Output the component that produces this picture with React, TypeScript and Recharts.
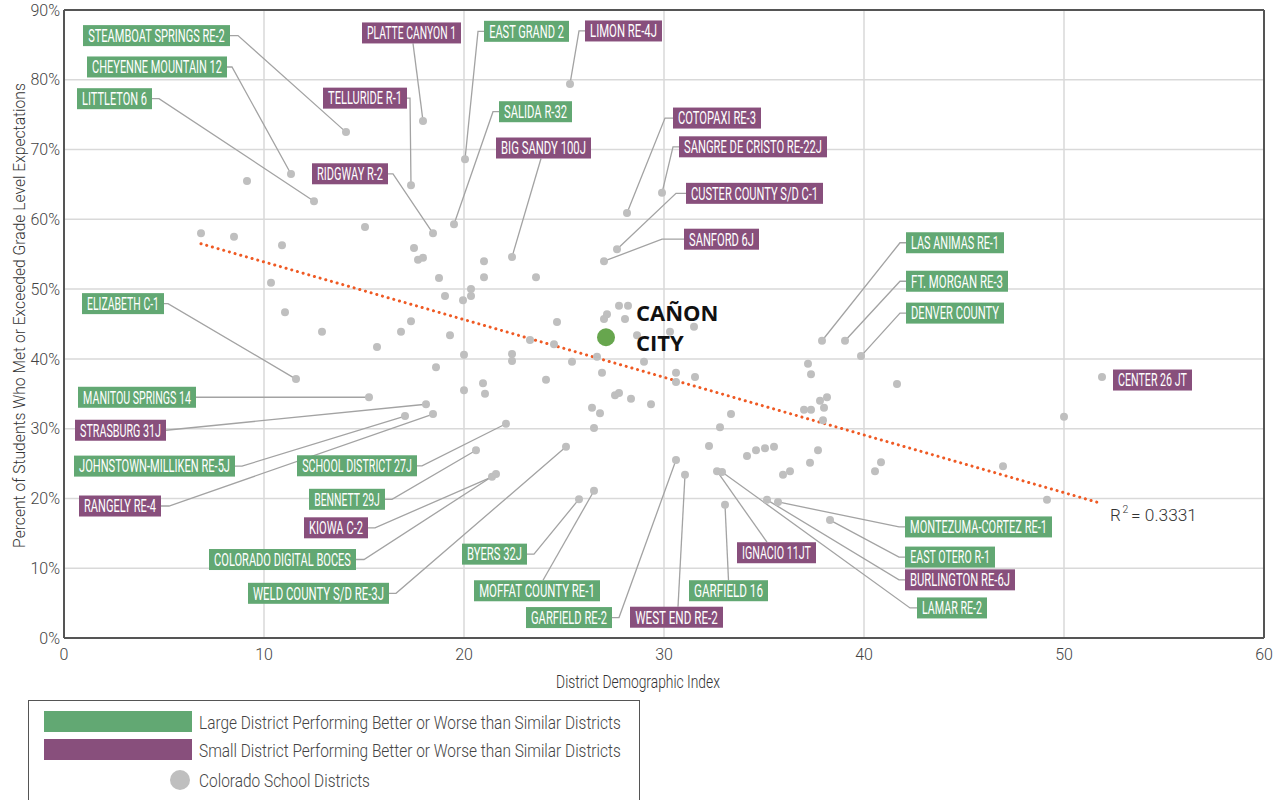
import React from 'react';
import { ScatterChart, Scatter, XAxis, YAxis, CartesianGrid, ReferenceLine, ReferenceDot } from 'recharts';

// ---------- DATA ----------
const labeledNames = [
  'STEAMBOAT SPRINGS RE-2', 'CHEYENNE MOUNTAIN 12', 'LITTLETON 6', 'PLATTE CANYON 1', 'TELLURIDE R-1',
  'RIDGWAY R-2', 'EAST GRAND 2', 'SALIDA R-32', 'LIMON RE-4J', 'BIG SANDY 100J',
  'COTOPAXI RE-3', 'SANGRE DE CRISTO RE-22J', 'CUSTER COUNTY S/D C-1', 'SANFORD 6J', 'LAS ANIMAS RE-1',
  'FT. MORGAN RE-3', 'DENVER COUNTY', 'CENTER 26 JT', 'ELIZABETH C-1', 'MANITOU SPRINGS 14',
  'STRASBURG 31J', 'JOHNSTOWN-MILLIKEN RE-5J', 'RANGELY RE-4', 'SCHOOL DISTRICT 27J', 'BENNETT 29J',
  'KIOWA C-2', 'COLORADO DIGITAL BOCES', 'WELD COUNTY S/D RE-3J', 'BYERS 32J', 'MOFFAT COUNTY RE-1',
  'GARFIELD RE-2', 'WEST END RE-2', 'GARFIELD 16', 'IGNACIO 11JT', 'MONTEZUMA-CORTEZ RE-1',
  'EAST OTERO R-1', 'BURLINGTON RE-6J', 'LAMAR RE-2',
];
const labeledX = [
  14.1, 11.35, 12.5, 17.95, 17.35,
  18.45, 20.05, 19.5, 25.3, 22.4,
  28.15, 29.9, 27.65, 27.0, 37.9,
  39.05, 39.85, 51.9, 11.6, 15.25,
  18.1, 17.05, 18.45, 22.1, 20.6,
  21.4, 21.6, 25.1, 25.75, 26.5,
  30.6, 31.05, 33.05, 32.65, 35.7,
  38.3, 35.15, 32.9,
];
const labeledY = [
  72.5, 66.5, 62.6, 74.1, 64.9,
  58.0, 68.6, 59.3, 79.4, 54.6,
  60.9, 63.8, 55.7, 54.0, 42.6,
  42.6, 40.4, 37.4, 37.1, 34.5,
  33.5, 31.8, 32.1, 30.7, 26.9,
  23.1, 23.5, 27.4, 19.9, 21.1,
  25.5, 23.4, 19.1, 23.9, 19.5,
  16.9, 19.8, 23.8,
];
const labeledGroup = [
  'large', 'large', 'large', 'small', 'small',
  'small', 'large', 'large', 'small', 'small',
  'small', 'small', 'small', 'small', 'large',
  'large', 'large', 'small', 'large', 'large',
  'small', 'large', 'small', 'large', 'large',
  'small', 'large', 'large', 'large', 'large',
  'large', 'small', 'large', 'small', 'large',
  'large', 'small', 'large',
];

const otherX = [
  6.85, 8.5, 9.15, 10.9, 10.35, 11.05, 12.9, 15.05, 15.65, 16.85,
  17.35, 17.5, 17.7, 17.95, 18.6, 18.75, 19.05, 19.3, 19.95, 20.0,
  20.0, 20.35, 20.35, 20.95, 21.05, 21.0, 21.0, 22.4, 22.4, 23.3,
  23.6, 24.1, 24.5, 24.65, 25.4, 26.4, 26.5, 26.65, 26.8, 26.9,
  27.0, 27.15, 27.55, 27.75, 27.75, 28.05, 28.2, 28.35, 28.65, 29.0,
  29.35, 30.3, 30.6, 30.6, 31.5, 31.55, 32.25, 32.8, 33.35, 34.15,
  34.6, 35.05, 35.5, 35.95, 36.3, 37.2, 37.35, 37.0, 37.35, 37.8,
  38.15, 38.0, 37.95, 37.3, 37.7, 40.55, 40.85, 41.65, 46.95, 49.15,
  50.0,
];
const otherY = [
  58.0, 57.5, 65.5, 56.3, 50.9, 46.7, 43.9, 58.9, 41.7, 43.9,
  45.4, 55.9, 54.2, 54.5, 38.8, 51.6, 49.0, 43.4, 48.4, 40.6,
  35.5, 50.0, 49.0, 36.5, 35.0, 54.0, 51.7, 40.7, 39.7, 42.7,
  51.7, 37.0, 42.1, 45.3, 39.6, 33.0, 30.1, 40.3, 32.2, 38.0,
  45.7, 46.4, 34.8, 35.1, 47.6, 45.7, 47.6, 34.3, 43.4, 39.6,
  33.5, 43.9, 38.0, 36.7, 44.6, 37.4, 27.5, 30.2, 32.1, 26.1,
  26.9, 27.2, 27.4, 23.4, 23.9, 39.3, 37.8, 32.7, 32.7, 34.0,
  34.5, 33.0, 31.2, 25.1, 26.9, 23.9, 25.2, 36.4, 24.6, 19.8,
  31.7,
];

const highlightLines = ['CAÑON', 'CITY'];
const highlightX = 27.1;
const highlightY = 43.1;

const trendX = [6.85, 51.85];
const trendY = [56.5, 19.3];
const rSquared = '0.3331';

const xTicks = [0, 10, 20, 30, 40, 50, 60];
const yTicks = [0, 10, 20, 30, 40, 50, 60, 70, 80, 90];
const xAxisTitle = 'District Demographic Index';
const yAxisTitle = 'Percent of Students Who Met or Exceeded Grade Level Expectations';
const legendLabels = [
  'Large District Performing Better or Worse than Similar Districts',
  'Small District Performing Better or Worse than Similar Districts',
  'Colorado School Districts',
];

// ---------- LAYOUT (label boxes, offsets from their point in px) ----------
const labelLayout = [
  { dx: -189.5, dy: -96.5, w: 147, side: 'r', stub: 8 },
  { dx: -134, dy: -107, w: 140, side: 'r', stub: 5 },
  { dx: -199.5, dy: -102.5, w: 75, side: 'r', stub: 7 },
  { dx: -11.5, dy: -88, w: 99, side: 'b', ax: 1.5 },
  { dx: -46, dy: -87, w: 84, side: 'r', stub: 3 },
  { dx: -83, dy: -59.5, w: 76, side: 'r', stub: 5 },
  { dx: 61.5, dy: -128, w: 85, side: 'l', stub: 6 },
  { dx: 81.5, dy: -112.5, w: 73, side: 'l', stub: 6 },
  { dx: 53.5, dy: -53, w: 77, side: 'l', stub: 6 },
  { dx: 31.5, dy: -109, w: 95, side: 'b', ax: -2.5 },
  { dx: 90, dy: -95, w: 88, side: 'l', stub: 8 },
  { dx: 91, dy: -46, w: 148, side: 'l', stub: 6 },
  { dx: 137.5, dy: -56, w: 137, side: 'l', stub: 10 },
  { dx: 117.5, dy: -22, w: 75, side: 'l', stub: 22 },
  { dx: 133, dy: -98, w: 98, side: 'l', stub: 6 },
  { dx: 112, dy: -59.5, w: 102, side: 'l', stub: 6 },
  { dx: 94, dy: -43, w: 98, side: 'l', stub: 6 },
  { dx: 50.5, dy: 3, w: 79, side: 'n' },
  { dx: -173, dy: -75.5, w: 82, side: 'r', stub: 4 },
  { dx: -232, dy: 0, w: 118, side: 'r', stub: 0 },
  { dx: -305.5, dy: 26, w: 91, side: 'r', stub: 0 },
  { dx: -250.5, dy: 50, w: 161, side: 'r', stub: 7 },
  { dx: -313, dy: 92, w: 82, side: 'r', stub: 8 },
  { dx: -149, dy: 42, w: 120, side: 'r', stub: 5 },
  { dx: -129, dy: 49, w: 76, side: 'r', stub: 7 },
  { dx: -156, dy: 51, w: 64, side: 'r', stub: 7 },
  { dx: -213.5, dy: 85.5, w: 147, side: 'r', stub: 8 },
  { dx: -247.5, dy: 146.5, w: 141, side: 'r', stub: 7 },
  { dx: -84.5, dy: 55, w: 65, side: 'r', stub: 7 },
  { dx: -57, dy: 100, w: 126, side: 't', ax: 6 },
  { dx: -107, dy: 157.5, w: 86, side: 'r', stub: 7 },
  { dx: -8.5, dy: 142.5, w: 93, side: 't', ax: 1.5 },
  { dx: 3.5, dy: 86, w: 79, side: 't', ax: 0 },
  { dx: 59.5, dy: 81.5, w: 79, side: 't', ax: -9.5 },
  { dx: 200.5, dy: 25, w: 147, side: 'l', stub: 6 },
  { dx: 120, dy: 37, w: 90, side: 'l', stub: 6 },
  { dx: 193, dy: 80, w: 110, side: 'l', stub: 6 },
  { dx: 230, dy: 136, w: 70, side: 'l', stub: 7 },
];

// ---------- TABLES FOR THE LIBRARY ----------
const otherTable = otherX.map((x, i) => ({ x, y: otherY[i] }));
const labeledTable = labeledNames.map((name, i) => ({
  x: labeledX[i], y: labeledY[i], name, group: labeledGroup[i], ...labelLayout[i],
}));
const highlightTable = [{ x: highlightX, y: highlightY }];

const GREEN = '#62a873';
const PURPLE = '#884f7c';
const GRAY_DOT = '#bfbfbf';
const BOX_H = 21;
const LABEL_FONT = "'Liberation Sans Narrow', Roboto, sans-serif";
const TEXT_FONT = "Roboto, 'Liberation Sans', sans-serif";

// measure natural text width so condensed text can be drawn with a horizontal scale
let measureCtx: CanvasRenderingContext2D | null = null;
function naturalWidth(text: string, size: number, weight: number, family: string): number | null {
  try {
    if (!measureCtx && typeof document !== 'undefined') {
      measureCtx = document.createElement('canvas').getContext('2d');
    }
    if (!measureCtx) return null;
    measureCtx.font = `${weight} ${size}px ${family}`;
    const w = measureCtx.measureText(text).width;
    return w > 0 ? w : null;
  } catch (e) {
    return null;
  }
}

type CTextProps = {
  x: number; y: number; text: string; width: number; size: number; weight?: number; family: string;
  fill: string; anchor?: 'start' | 'middle' | 'end'; rotate?: number;
};
const CondensedText = ({ x, y, text, width, size, weight = 400, family, fill, anchor = 'start', rotate = 0 }: CTextProps) => {
  const nat = naturalWidth(text, size, weight, family);
  const common = { fontSize: size, fontWeight: weight, fontFamily: family, fill, textAnchor: anchor } as any;
  if (nat) {
    const s = width / nat;
    return (
      <text x={0} y={0} transform={`translate(${x} ${y}) rotate(${rotate}) scale(${s} 1)`} {...common}>
        {text}
      </text>
    );
  }
  return (
    <text x={0} y={0} transform={`translate(${x} ${y}) rotate(${rotate})`} textLength={width} lengthAdjust="spacingAndGlyphs" {...common}>
      {text}
    </text>
  );
};

const GrayDot = (p: any) => <circle cx={p.cx} cy={p.cy} r={4} fill={GRAY_DOT} />;

const LeaderLine = (p: any) => {
  const { cx, cy, payload } = p;
  const { dx, dy, w, side, ax = 0, stub = 7 } = payload;
  const bx = cx + dx;
  const by = cy + dy;
  let pts: number[][] = [];
  if (side === 'r') {
    const sx = bx + w / 2;
    pts = [[sx, by], [sx + stub, by], [cx, cy]];
  } else if (side === 'l') {
    const sx = bx - w / 2;
    pts = [[sx, by], [sx - stub, by], [cx, cy]];
  } else if (side === 'b') {
    pts = [[bx + ax, by + BOX_H / 2], [cx, cy]];
  } else if (side === 't') {
    pts = [[bx + ax, by - BOX_H / 2], [cx, cy]];
  } else {
    return <g />;
  }
  return (
    <polyline points={pts.map((q) => q.join(',')).join(' ')} fill="none" stroke="#a3a3a3" strokeWidth={1.3} />
  );
};

const LabelBox = (p: any) => {
  const { cx, cy, payload } = p;
  const { dx, dy, w, group, name } = payload;
  const bx = cx + dx;
  const by = cy + dy;
  return (
    <g>
      <rect x={bx - w / 2} y={by - BOX_H / 2} width={w} height={BOX_H} fill={group === 'large' ? GREEN : PURPLE} />
      <CondensedText x={bx} y={by + 6.3} text={name} width={w - 10} size={18} family={LABEL_FONT} fill="#ffffff" anchor="middle" />
    </g>
  );
};

const HighlightDot = (p: any) => (
  <g>
    <circle cx={p.cx} cy={p.cy} r={9} fill="#67a64e" />
    <text x={p.cx + 30} y={p.cy - 16} fontSize={22} fontWeight={700} fontFamily="'Open Sans', sans-serif" fill="#111">
      {highlightLines[0]}
    </text>
    <text x={p.cx + 30} y={p.cy + 14} fontSize={22} fontWeight={700} fontFamily="'Open Sans', sans-serif" fill="#111">
      {highlightLines[1]}
    </text>
  </g>
);

const RSquaredLabel = (p: any) => (
  <g>
    <text x={p.cx + 9} y={p.cy + 18} fontSize={17} fontWeight={300} fontFamily={TEXT_FONT} fill="#333">
      R
    </text>
    <text x={p.cx + 21.5} y={p.cy + 10} fontSize={10.5} fontWeight={300} fontFamily={TEXT_FONT} fill="#333">
      2
    </text>
    <CondensedText x={p.cx + 30} y={p.cy + 18} text={`= ${rSquared}`} width={66} size={17} weight={300} family={TEXT_FONT} fill="#333" />
  </g>
);

const XTitle = (p: any) => {
  const vb = p.viewBox || { x: 64, y: 638, width: 1200, height: 30 };
  return (
    <CondensedText
      x={vb.x + vb.width / 2 - 26}
      y={vb.y + 50}
      text={xAxisTitle}
      width={164}
      size={17.5}
      weight={300}
      family={TEXT_FONT}
      fill="#333"
      anchor="middle"
    />
  );
};

const YTitle = (p: any) => {
  const vb = p.viewBox || { x: 0, y: 10, width: 64, height: 628 };
  const cx = vb.x + 25;
  const cy = vb.y + vb.height / 2 - 8.5;
  return (
    <CondensedText x={cx} y={cy} text={yAxisTitle} width={465} size={17} weight={300} family={TEXT_FONT} fill="#333" anchor="middle" rotate={-90} />
  );
};

const tickStyle = { fill: '#444', fontSize: 16, fontFamily: TEXT_FONT, fontWeight: 300 };

const Legend = () => (
  <div
    style={{
      position: 'absolute',
      left: 28,
      top: 700,
      width: 612,
      height: 120,
      border: '1.5px solid #555',
      background: '#fff',
      boxSizing: 'border-box',
    }}
  >
    <svg width={612} height={100} style={{ position: 'absolute', left: -1.5, top: -1.5 }}>
      <rect x={16} y={11} width={148} height={21} fill={GREEN} />
      <rect x={16} y={39} width={148} height={21} fill={PURPLE} />
      <circle cx={152} cy={80} r={10} fill={GRAY_DOT} />
      {legendLabels.map((t, i) => (
        <CondensedText
          key={t}
          x={171}
          y={[28.5, 56.5, 86.5][i]}
          text={t}
          width={[422, 422, 171][i]}
          size={18}
          weight={300}
          family={TEXT_FONT}
          fill="#444"
        />
      ))}
    </svg>
  </div>
);

export default function App() {
  return (
    <div style={{ position: 'absolute', left: 0, top: 0, width: 1276, height: 800, background: '#fff', overflow: 'hidden' }}>
      <ScatterChart width={1276} height={800} margin={{ top: 10, right: 12, left: 0, bottom: 132 }}>
        <CartesianGrid stroke="#d9d9d9" strokeWidth={1.5} />
        <XAxis
          type="number"
          dataKey="x"
          domain={[0, 60]}
          ticks={xTicks}
          interval={0}
          height={30}
          tickLine={false}
          tickSize={0}
          tickMargin={11}
          axisLine={{ stroke: '#555', strokeWidth: 2 }}
          tick={tickStyle}
          label={{ content: XTitle }}
        />
        <YAxis
          type="number"
          dataKey="y"
          domain={[0, 90]}
          ticks={yTicks}
          interval={0}
          width={64}
          tickLine={false}
          tickSize={0}
          tickMargin={4}
          axisLine={{ stroke: '#555', strokeWidth: 2 }}
          tick={tickStyle}
          tickFormatter={(v: number) => `${v}%`}
          label={{ content: YTitle }}
        />
        <ReferenceLine y={90} stroke="#555" strokeWidth={2} />
        <ReferenceLine x={60} stroke="#555" strokeWidth={2} />
        <Scatter data={labeledTable} shape={LeaderLine} isAnimationActive={false} />
        <Scatter data={otherTable} shape={GrayDot} isAnimationActive={false} />
        <Scatter data={labeledTable} shape={GrayDot} isAnimationActive={false} />
        <ReferenceLine
          segment={[{ x: trendX[0], y: trendY[0] }, { x: trendX[1], y: trendY[1] }]}
          stroke="#ef5a24"
          strokeWidth={3}
          strokeDasharray="0.1 5.8"
          strokeLinecap="round"
        />
        <ReferenceDot x={trendX[1]} y={trendY[1]} shape={RSquaredLabel} />
        <Scatter data={highlightTable} shape={HighlightDot} isAnimationActive={false} />
        <Scatter data={labeledTable} shape={LabelBox} isAnimationActive={false} />
      </ScatterChart>
      <Legend />
    </div>
  );
}
